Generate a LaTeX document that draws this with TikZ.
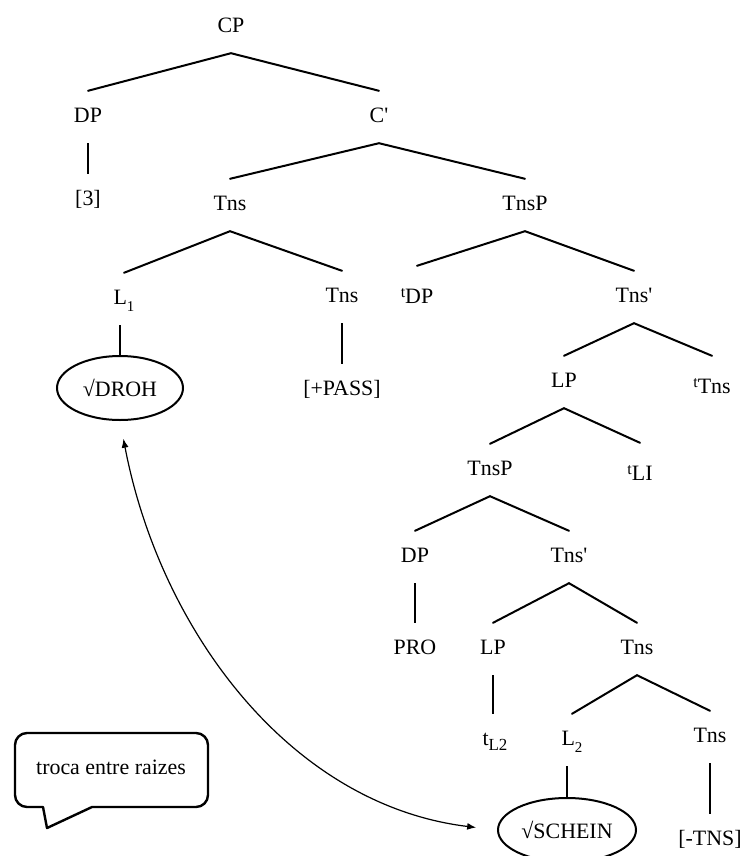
\documentclass[tikz,border=0pt]{standalone}
\usepackage{fontspec}
\setmainfont{Liberation Serif}
\usetikzlibrary{shapes.geometric,arrows.meta}

% trace with a small raised t and a lowered label
\newcommand\trc[1]{{\fontsize{16}{16}\selectfont t}\raisebox{-6bp}{#1}}
% category with a lowered index
\newcommand\idx[2]{#1\raisebox{-7bp}{\fontsize{15}{15}\selectfont #2}}
\newcommand\prm{\textquotesingle}

\begin{document}
\begin{tikzpicture}[x=1bp,y=-1bp,
  lbl/.style={inner xsep=1bp, inner ysep=16bp, text height=15bp, text depth=5bp,
    font=\fontsize{22}{26}\selectfont},
  root/.style={ellipse, draw, line width=2bp, inner sep=0pt,
    font=\fontsize{22}{26}\selectfont},
  branch/.style={line width=2bp, line cap=round},
  unary/.style={line width=1.5bp},
  move/.style={{Latex[length=9bp,width=7bp]}-{Latex[length=9bp,width=7bp]}, line width=1.2bp},
  bubble/.style={line width=2.4bp, line join=round},
  note/.style={font=\fontsize{22}{26}\selectfont, inner sep=0pt}]
\useasboundingbox (0,0) rectangle (742,856);

% upper tree
\node[lbl] (cp)    at (231,27)  {CP};
\node[lbl] (dp1)   at (88,117)  {DP};
\node[lbl] (cbar)  at (379,117) {C\prm};
\node[lbl] (n3)    at (88,200)  {[3]};
\node[lbl] (tns1)  at (230,205) {Tns};
\node[lbl] (tnsp1) at (525,205) {TnsP};
\node[lbl] (l1)    at (124,299) {\idx{L}{1}};
\node[lbl] (tns2)  at (342,297) {Tns};
\node[lbl] (tdp)   at (417,292) {\trc{DP}};
\node[lbl] (tnsb1) at (634,297) {Tns\prm};
\node[root, minimum width=126bp, minimum height=64bp] (droh) at (120,388) {√DROH};
\node[lbl] (pass)  at (342,390) {[+PASS]};
\node[lbl] (lp1)   at (564,382) {LP};
\node[lbl] (ttns)  at (712,382) {\trc{Tns}};
\node[lbl] (tnsp2) at (490,470) {TnsP};
\node[lbl] (tli)   at (640,469) {\trc{LI}};
\node[lbl] (dp2)   at (415,557) {DP};
\node[lbl] (tnsb2) at (569,557) {Tns\prm};
\node[lbl] (pro)   at (415,649) {PRO};
\node[lbl] (lp2)   at (493,649) {LP};
\node[lbl] (tns3)  at (637,649) {Tns};
\node[lbl] (tl2)   at (495,740) {t\raisebox{-5bp}{\fontsize{17}{17}\selectfont L2}};
\node[lbl] (l2)    at (572,740) {\idx{L}{2}};
\node[lbl] (tns4)  at (710,737) {Tns};
\node[root, minimum width=138bp, minimum height=64bp] (schein) at (567,830) {√SCHEIN};
\node[lbl] (negtns) at (710,840) {[-TNS]};

% branches
\draw[branch] (dp1.north) -- (cp.south) -- (cbar.north);
\draw[branch] (tns1.north) -- (cbar.south) -- (tnsp1.north);
\draw[branch] (l1.north) -- (tns1.south) -- (tns2.north);
\draw[branch] (tdp.north) -- (tnsp1.south) -- (tnsb1.north);
\draw[branch] (lp1.north) -- (tnsb1.south) -- (ttns.north);
\draw[branch] (tnsp2.north) -- (lp1.south) -- (tli.north);
\draw[branch] (dp2.north) -- (tnsp2.south) -- (tnsb2.north);
\draw[branch] (lp2.north) -- (tnsb2.south) -- (tns3.north);
\draw[branch] (l2.north) -- (tns3.south) -- (tns4.north);

% unary projections, kept vertical
\draw[unary] (dp1.south) -- (n3.north);
\draw[unary] (droh.north |- l1.south) -- (droh.north);
\draw[unary] (tns2.south) -- (pass.north);
\draw[unary] (dp2.south) -- (pro.north);
\draw[unary] (lp2.south) -- (lp2.south |- tl2.north);
\draw[unary] (schein.north |- l2.south) -- (schein.north);
\draw[unary] (tns4.south) -- (negtns.north);

% root exchange
\draw[move, shorten <=18bp, shorten >=21bp] (droh.south) .. controls (160,630) and (290,805) .. (schein.west);

% speech bubble
\node[note] (label) at (111,767) {troca entre raizes};
\draw[bubble] (47,828) -- (43,807) [rounded corners=12bp] -- (15,807) -- (15,733) -- (208,733) -- (208,807) [sharp corners] -- (92,807) -- cycle;
\end{tikzpicture}
\end{document}
